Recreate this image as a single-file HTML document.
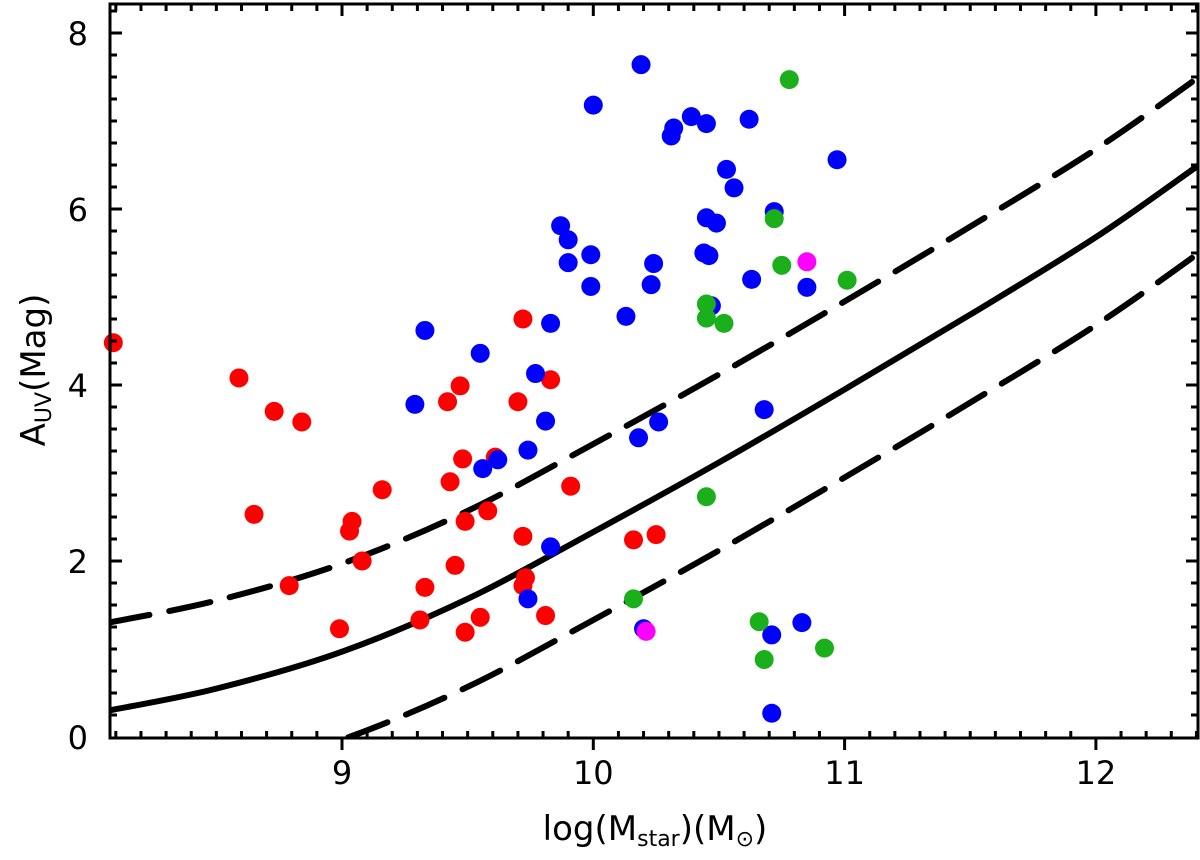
<!DOCTYPE html>
<html><head><meta charset="utf-8"><style>
body{margin:0;background:#fff}
svg text{font-family:"DejaVu Sans","Liberation Sans",sans-serif;fill:#000}
</style></head><body>
<svg id="chart" width="1200" height="855" viewBox="0 0 1200 855" xmlns="http://www.w3.org/2000/svg">
<g id="marks"></g>
<g id="axes"></g>
<text x="655" y="840" font-size="34" text-anchor="middle">log(M<tspan font-size="22" dy="6">star</tspan><tspan dy="-6">)(M</tspan><tspan font-size="22" dy="6">⊙</tspan><tspan dy="-6">)</tspan></text>
<text transform="translate(45,370) rotate(-90)" font-size="34" text-anchor="middle">A<tspan font-size="22" dy="6">UV</tspan><tspan dy="-6">(Mag)</tspan></text>
</svg>
<script>
const xTicks=[9,10,11,12];
const yTicks=[0,2,4,6,8];
const curveX=[8.07,8.5,9,9.5,10,10.5,11,11.5,12,12.41];
const curveY=[0.3,0.55,0.97,1.57,2.33,3.12,3.95,4.8,5.68,6.5];
const redX=[8.09,8.59,8.65,8.73,8.79,8.84,8.99,9.03,9.04,9.08,9.16,9.31,9.33,9.42,9.43,9.45,9.47,9.48,9.49,9.49,9.55,9.58,9.61,9.70,9.72,9.72,9.72,9.73,9.81,9.83,9.91,10.16,10.25];
const redY=[4.48,4.08,2.53,3.70,1.72,3.58,1.23,2.34,2.45,2.00,2.81,1.33,1.70,3.81,2.90,1.95,3.99,3.16,2.45,1.19,1.36,2.57,3.18,3.81,2.28,4.75,1.72,1.81,1.38,4.06,2.85,2.24,2.30];
const blueX=[9.29,9.33,9.55,9.56,9.62,9.74,9.74,9.77,9.81,9.83,9.83,9.87,9.90,9.90,9.99,9.99,10.00,10.13,10.18,10.19,10.20,10.23,10.24,10.26,10.31,10.32,10.39,10.44,10.45,10.45,10.46,10.47,10.49,10.53,10.56,10.62,10.63,10.68,10.71,10.71,10.72,10.83,10.85,10.97];
const blueY=[3.78,4.62,4.36,3.05,3.15,3.26,1.57,4.13,3.59,2.16,4.70,5.81,5.65,5.39,5.48,5.12,7.18,4.78,3.40,7.64,1.23,5.14,5.38,3.58,6.83,6.92,7.05,5.50,5.90,6.97,5.47,4.90,5.84,6.45,6.24,7.02,5.20,3.72,0.27,1.16,5.97,1.30,5.11,6.56];
const greenX=[10.16,10.45,10.45,10.45,10.52,10.66,10.68,10.72,10.75,10.78,10.92,11.01];
const greenY=[1.57,2.73,4.92,4.76,4.70,1.31,0.88,5.89,5.36,7.47,1.01,5.19];
const magentaX=[10.21,10.85];
const magentaY=[1.20,5.40];
const X0=110,X1=1198,Y0=738,Y1=4;
const xs=v=>342+(v-9)*251.3;
const ys=v=>737-v*88;
const NS='http://www.w3.org/2000/svg';
const marks=document.getElementById('marks'),axes=document.getElementById('axes');
function mk(t,a,p){const e=document.createElementNS(NS,t);for(const k in a)e.setAttribute(k,a[k]);p.appendChild(e);return e;}
function curve(off,dash,name){
  const P=curveX.map((x,i)=>[xs(x),ys(curveY[i]+off)]);
  let d='M'+P[0][0]+','+P[0][1];
  for(let i=0;i<P.length-1;i++){const p0=P[Math.max(i-1,0)],p1=P[i],p2=P[i+1],p3=P[Math.min(i+2,P.length-1)];
    const c1=[p1[0]+(p2[0]-p0[0])/6,p1[1]+(p2[1]-p0[1])/6],c2=[p2[0]-(p3[0]-p1[0])/6,p2[1]-(p3[1]-p1[1])/6];
    d+=' C'+c1.join(',')+' '+c2.join(',')+' '+p2.join(',');}
  const p=mk('path',{d:d,fill:'none',stroke:'#000','stroke-width':6,'stroke-linecap':'round','clip-path':'url(#clip)'},marks);
  if(dash)p.setAttribute('stroke-dasharray',dash);
  
  
}
const defs=mk('defs',{},marks);const cp=mk('clipPath',{id:'clip'},defs);mk('rect',{x:X0,y:Y1,width:X1-X0,height:Y0-Y1},cp);
curve(0,null,'fit-line');
curve(1,'42 20','upper-dashed-line');
curve(-1,'42 20','lower-dashed-line');
function pts(X,Y,col,name){X.forEach((x,i)=>{const c=mk('circle',{cx:xs(x),cy:ys(Y[i]),r:9.5,fill:col},marks);
  
  });}
pts(redX,redY,'#f00','red-point');pts(blueX,blueY,'#00f','blue-point');pts(greenX,greenY,'#1bb01b','green-point');pts(magentaX,magentaY,'#f0f','magenta-point');
const fr=mk('rect',{x:X0,y:Y1,width:X1-X0,height:Y0-Y1,fill:'none',stroke:'#000','stroke-width':3},axes);

for(let v=8.1;v<12.41;v+=0.1){const x=xs(v);const maj=Math.abs(v-Math.round(v))<0.01;
  if(maj){mk('line',{x1:x,x2:x,y1:Y0,y2:Y0+12,stroke:'#000','stroke-width':3},axes);mk('line',{x1:x,x2:x,y1:Y1,y2:Y1+12,stroke:'#000','stroke-width':3},axes);}
  else{mk('line',{x1:x,x2:x,y1:Y0,y2:Y0-7,stroke:'#000','stroke-width':3},axes);mk('line',{x1:x,x2:x,y1:Y1,y2:Y1+7,stroke:'#000','stroke-width':3},axes);}}
for(let v=0.25;v<8.3;v+=0.25){const y=ys(v);const maj=Math.abs(v/2-Math.round(v/2))<0.01;
  mk('line',{x1:X0,x2:X0+(maj?12:7),y1:y,y2:y,stroke:'#000','stroke-width':3},axes);
  mk('line',{x1:X1,x2:X1-(maj?12:7),y1:y,y2:y,stroke:'#000','stroke-width':3},axes);}
xTicks.forEach(v=>{const t=mk('text',{x:xs(v),y:Y0+46,'font-size':32,'text-anchor':'middle'},axes);t.textContent=v;
  });
yTicks.forEach(v=>{const t=mk('text',{x:88,y:ys(v)+12,'font-size':32,'text-anchor':'end'},axes);t.textContent=v;
  });
</script>
</body></html>
